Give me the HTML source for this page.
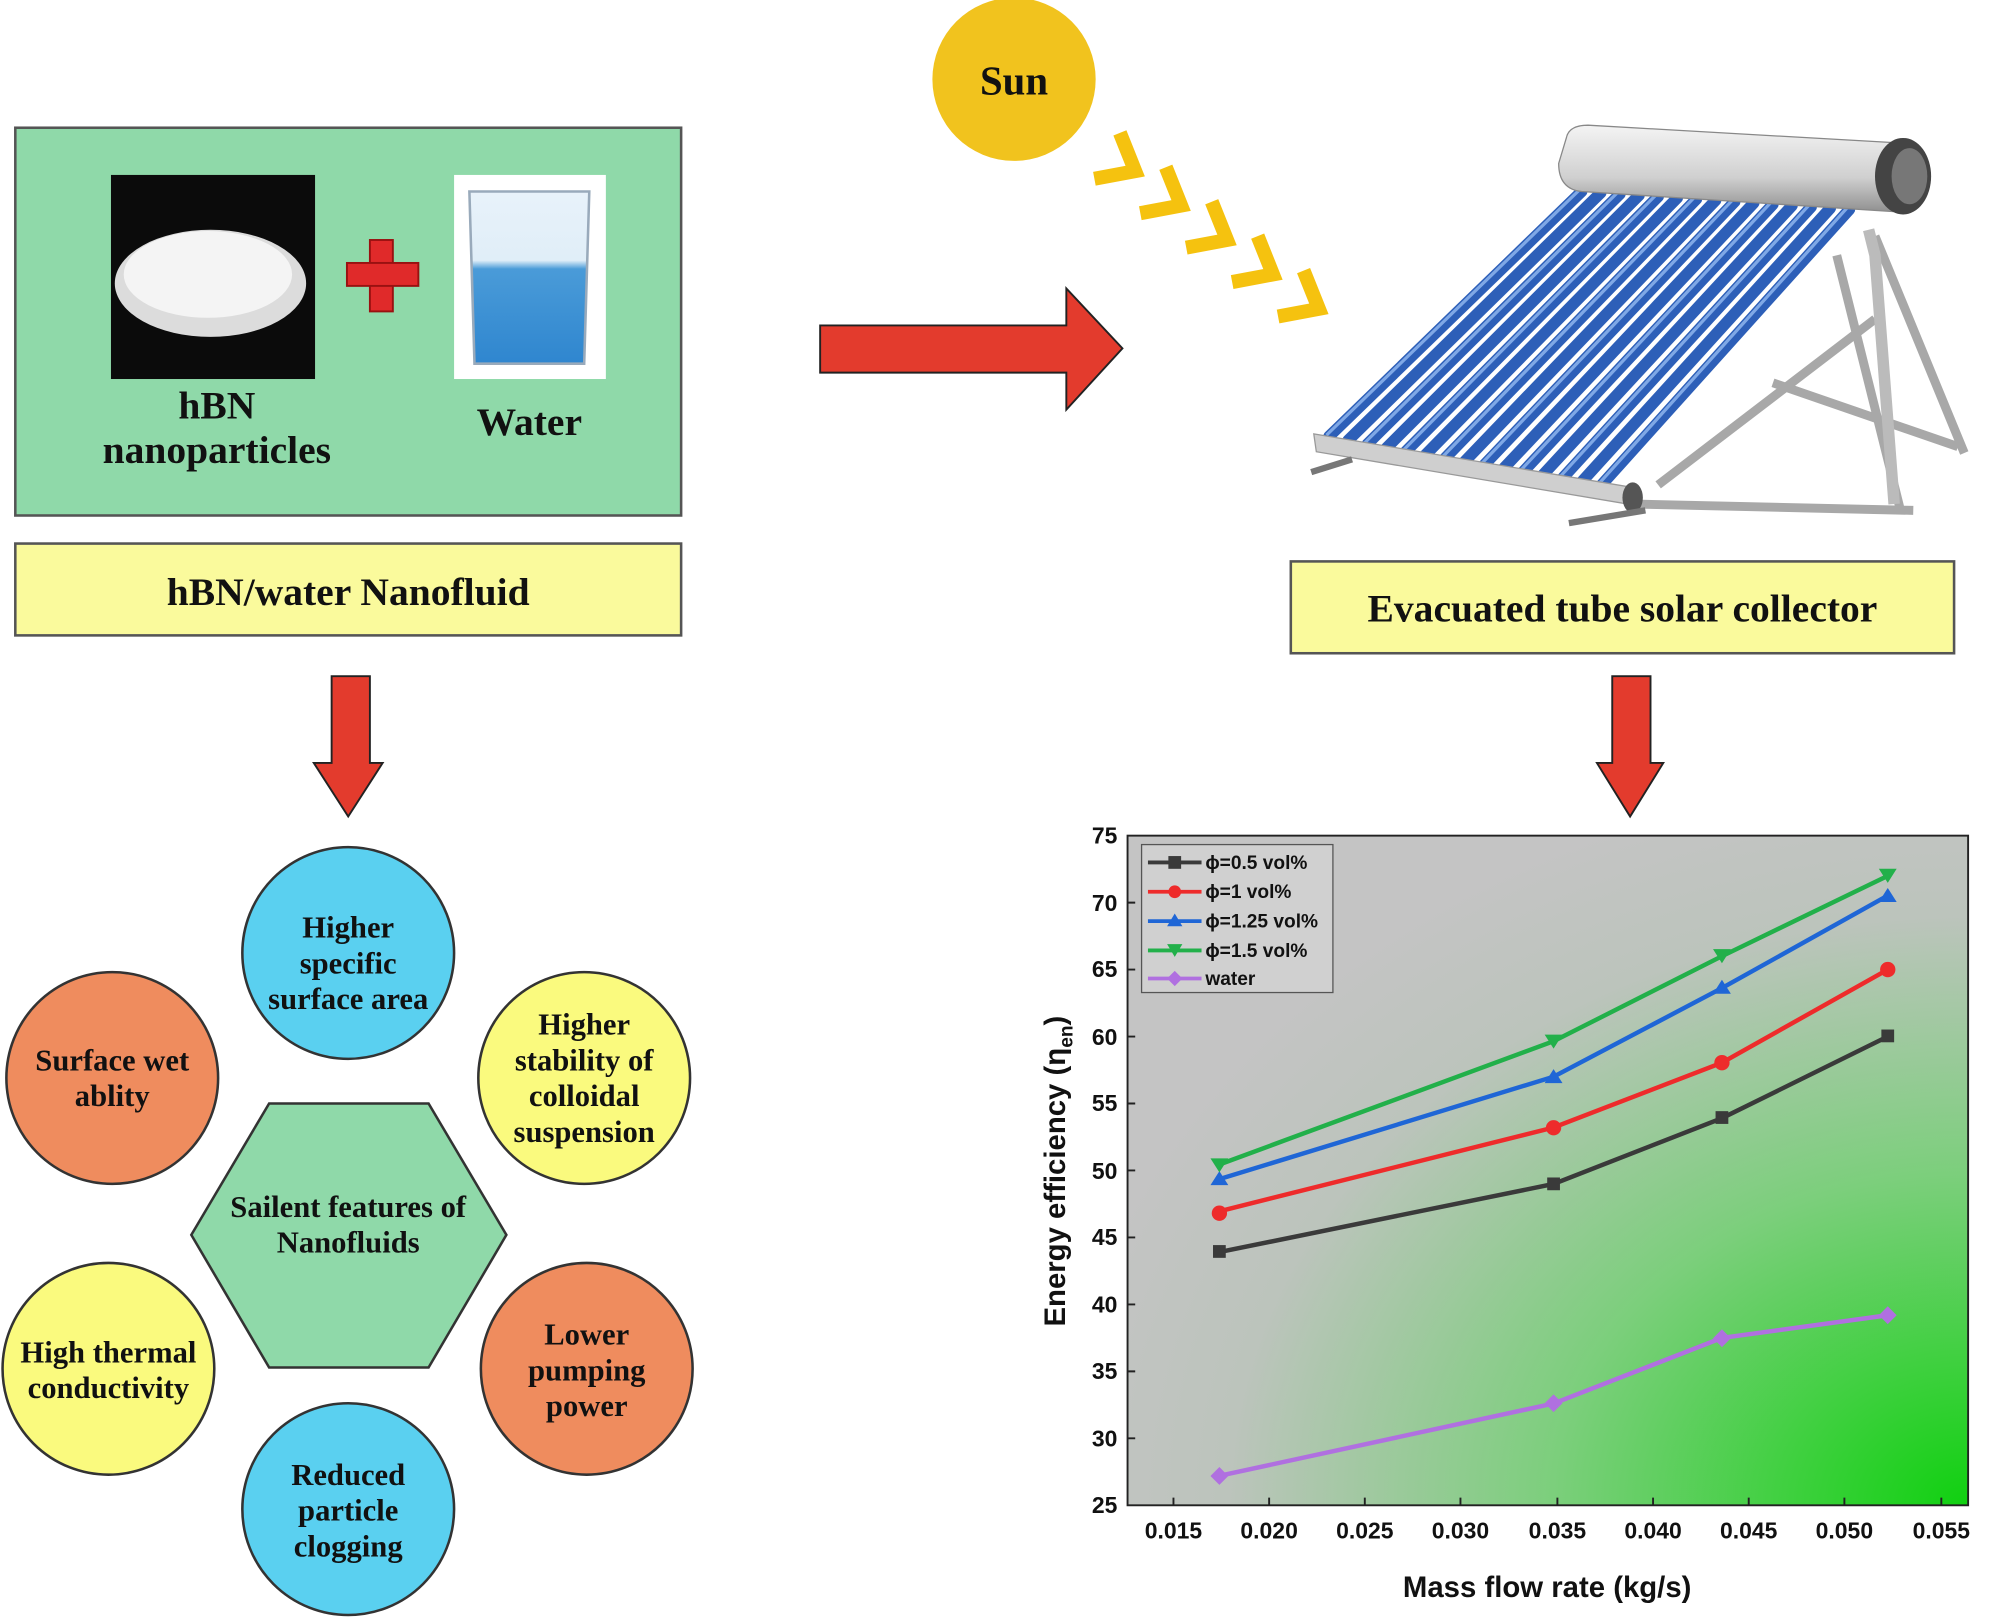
<!DOCTYPE html>
<html><head><meta charset="utf-8"><style>
html,body{margin:0;padding:0;background:#fff}
svg{display:block}
.s{font-family:"Liberation Serif",serif;font-weight:bold;fill:#111}
.a{font-family:"Liberation Sans",sans-serif;font-weight:bold;fill:#111}
</style></head><body>
<svg width="2000" height="1619" viewBox="0 0 1568 1269" xmlns="http://www.w3.org/2000/svg">
<defs>
<radialGradient id="cg" cx="1" cy="1" r="1.1">
<stop offset="0" stop-color="#10d010"/><stop offset="0.45" stop-color="#7ccf7c"/><stop offset="0.8" stop-color="#bcc4bc"/><stop offset="1" stop-color="#c4c4c4"/>
</radialGradient>
<linearGradient id="bk" x1="0" y1="0" x2="0" y2="1"><stop offset="0" stop-color="#e8f2fa"/><stop offset="0.4" stop-color="#e0eef8"/><stop offset="0.45" stop-color="#4a9bd8"/><stop offset="1" stop-color="#2f86cf"/></linearGradient>
<linearGradient id="man" x1="0" y1="0" x2="0" y2="1"><stop offset="0" stop-color="#f4f4f4"/><stop offset="0.6" stop-color="#d0d0d0"/><stop offset="1" stop-color="#909090"/></linearGradient>
</defs>
<rect x="12" y="100" width="522" height="304" fill="#8fd9a9" stroke="#555" stroke-width="2"/>
<rect x="87" y="137" width="160" height="160" fill="#0b0b0b"/>
<ellipse cx="165" cy="222" rx="75" ry="42" fill="#dcdcdc"/>
<ellipse cx="163" cy="215" rx="66" ry="34" fill="#f4f4f4"/>
<rect x="290" y="188" width="18" height="56" fill="#e02a2a" stroke="#911" stroke-width="1.5"/>
<rect x="272" y="206" width="56" height="18" fill="#e02a2a" stroke="#911" stroke-width="1.5"/>
<rect x="356" y="137" width="119" height="160" fill="#fff"/>
<path d="M368 150 L462 150 L458 285 L372 285 Z" fill="url(#bk)" stroke="#9ab" stroke-width="2"/>
<text x="170" y="328" text-anchor="middle" class="s" font-size="31">hBN</text>
<text x="170" y="363" text-anchor="middle" class="s" font-size="31">nanoparticles</text>
<text x="415" y="341" text-anchor="middle" class="s" font-size="31">Water</text>
<rect x="12" y="426" width="522" height="72" fill="#fafa9c" stroke="#555" stroke-width="2"/>
<text x="273" y="474" text-anchor="middle" class="s" font-size="31">hBN/water Nanofluid</text>
<path d="M260 530 L290 530 L290 598 L300 598 L273 640 L246 598 L260 598 Z" fill="#e33b2d" stroke="#222" stroke-width="1.5"/>
<path d="M643 255 L836 255 L836 226 L880 273 L836 321 L836 292 L643 292 Z" fill="#e33b2d" stroke="#222" stroke-width="1.5"/>
<path d="M1264 530 L1294 530 L1294 598 L1304 598 L1278 640 L1252 598 L1264 598 Z" fill="#e33b2d" stroke="#222" stroke-width="1.5"/>
<circle cx="795" cy="62" r="64" fill="#f1c31e"/>
<text x="795" y="74" text-anchor="middle" class="s" font-size="32">Sun</text>
<g fill="none" stroke="#f5c20f" stroke-width="11" stroke-linejoin="miter">
<polyline points="878,104 890,134 858,140"/>
<polyline points="914,131 926,161 894,167"/>
<polyline points="950,158 962,188 930,194"/>
<polyline points="986,185 998,215 966,221"/>
<polyline points="1022,212 1034,242 1002,248"/>
</g>
<g>
<path d="M1470 185 L1540 355 M1440 200 L1490 400 M1300 380 L1470 250 M1390 300 L1535 350 M1280 395 L1500 400" stroke="#a8a8a8" stroke-width="7" fill="none"/>
<path d="M1465 180 L1470 200 L1485 395" stroke="#bbb" stroke-width="9" fill="none"/>
<g stroke="#2d5fb8" stroke-width="9" stroke-linecap="round">
<line x1="1240" y1="150" x2="1042" y2="342"/><line x1="1255" y1="151" x2="1057" y2="345"/><line x1="1270" y1="152" x2="1072" y2="348"/><line x1="1285" y1="153" x2="1087" y2="351"/><line x1="1300" y1="154" x2="1102" y2="354"/><line x1="1315" y1="155" x2="1117" y2="357"/><line x1="1330" y1="156" x2="1132" y2="360"/><line x1="1345" y1="157" x2="1147" y2="363"/><line x1="1360" y1="158" x2="1162" y2="366"/><line x1="1375" y1="159" x2="1177" y2="369"/><line x1="1390" y1="160" x2="1192" y2="372"/><line x1="1405" y1="161" x2="1207" y2="375"/><line x1="1420" y1="162" x2="1222" y2="378"/><line x1="1435" y1="163" x2="1237" y2="381"/><line x1="1450" y1="164" x2="1252" y2="384"/>
</g>
<g stroke="#7fa8e6" stroke-width="2.5">
<line x1="1238" y1="149" x2="1040" y2="341"/><line x1="1268" y1="151" x2="1070" y2="347"/><line x1="1298" y1="153" x2="1100" y2="353"/><line x1="1328" y1="155" x2="1130" y2="359"/><line x1="1358" y1="157" x2="1160" y2="365"/><line x1="1388" y1="159" x2="1190" y2="371"/><line x1="1418" y1="161" x2="1220" y2="377"/><line x1="1448" y1="163" x2="1250" y2="383"/>
</g>
<path d="M1228 108 Q1230 98 1245 98 L1490 112 Q1510 114 1508 140 Q1506 166 1488 166 L1240 150 Q1222 148 1222 128 Z" fill="url(#man)" stroke="#888"/>
<ellipse cx="1492" cy="138" rx="22" ry="30" fill="#444"/>
<ellipse cx="1497" cy="138" rx="14" ry="22" fill="#777"/>
<path d="M1030 340 L1280 382 L1282 396 L1032 354 Z" fill="#cfcfcf" stroke="#999"/>
<ellipse cx="1280" cy="390" rx="8" ry="12" fill="#555"/>
<path d="M1028 370 L1060 360 M1230 410 L1290 400" stroke="#777" stroke-width="5"/>
</g>
<rect x="1012" y="440" width="520" height="72" fill="#fafa9c" stroke="#555" stroke-width="2"/>
<text x="1272" y="487" text-anchor="middle" class="s" font-size="31">Evacuated tube solar collector</text>
<g stroke="#333" stroke-width="2">
<circle cx="273" cy="747" r="83" fill="#5ad0f0"/>
<circle cx="458" cy="845" r="83" fill="#fafa7e"/>
<circle cx="88" cy="845" r="83" fill="#ef8c5e"/>
<circle cx="85" cy="1073" r="83" fill="#fafa7e"/>
<circle cx="460" cy="1073" r="83" fill="#ef8c5e"/>
<circle cx="273" cy="1183" r="83" fill="#5ad0f0"/>
<polygon points="150,968 211,865 336,865 397,968 336,1072 211,1072" fill="#8fd9a9"/>
</g>
<g class="s" font-size="24" text-anchor="middle">
<text x="273" y="735">Higher</text><text x="273" y="763">specific</text><text x="273" y="791">surface area</text>
<text x="458" y="811">Higher</text><text x="458" y="839">stability of</text><text x="458" y="867">colloidal</text><text x="458" y="895">suspension</text>
<text x="88" y="839">Surface wet</text><text x="88" y="867">ablity</text>
<text x="273" y="954">Sailent features of</text><text x="273" y="982">Nanofluids</text>
<text x="85" y="1068">High thermal</text><text x="85" y="1096">conductivity</text>
<text x="460" y="1054">Lower</text><text x="460" y="1082">pumping</text><text x="460" y="1110">power</text>
<text x="273" y="1164">Reduced</text><text x="273" y="1192">particle</text><text x="273" y="1220">clogging</text>
</g>
<rect x="884" y="655" width="659" height="525" fill="url(#cg)" stroke="#222" stroke-width="1.5"/>
<g class="a" font-size="18" text-anchor="end">
<text x="876" y="661">75</text><text x="876" y="714">70</text><text x="876" y="766">65</text><text x="876" y="819">60</text><text x="876" y="871">55</text><text x="876" y="924">50</text><text x="876" y="976">45</text><text x="876" y="1029">40</text><text x="876" y="1081">35</text><text x="876" y="1134">30</text><text x="876" y="1186">25</text>
</g>
<g class="a" font-size="18" text-anchor="middle">
<text x="920" y="1206">0.015</text><text x="995" y="1206">0.020</text><text x="1070" y="1206">0.025</text><text x="1145" y="1206">0.030</text><text x="1221" y="1206">0.035</text><text x="1296" y="1206">0.040</text><text x="1371" y="1206">0.045</text><text x="1446" y="1206">0.050</text><text x="1522" y="1206">0.055</text>
</g>
<g stroke="#222" stroke-width="1.5">
<path d="M920 1180v-6M995 1180v-6M1070 1180v-6M1145 1180v-6M1221 1180v-6M1296 1180v-6M1371 1180v-6M1446 1180v-6M1522 1180v-6"/>
<path d="M884 707.5h6M884 760h6M884 812.5h6M884 865h6M884 917.5h6M884 970h6M884 1022.5h6M884 1075h6M884 1127.5h6"/>
</g>
<text x="1213" y="1252" text-anchor="middle" class="a" font-size="23">Mass flow rate (kg/s)</text>
<text transform="translate(835,918) rotate(-90)" text-anchor="middle" class="a" font-size="23">Energy efficiency (η<tspan font-size="15" dy="6">en</tspan><tspan dy="-6">)</tspan></text>
<g fill="none" stroke-width="3.5">
<polyline points="956,981.5 1218,928.1 1350,876.5 1480,812.5" stroke="#3a3a3a"/>
<polyline points="956,949.5 1218,883.8 1350,833 1480,760" stroke="#ee2b2b"/>
<polyline points="956,924.3 1218,844 1350,774.5 1480,702" stroke="#1f66d6"/>
<polyline points="956,912.8 1218,816.2 1350,749.5 1480,686.5" stroke="#22b04a"/>
<polyline points="956,1156.9 1218,1100.2 1350,1048.8 1480,1031" stroke="#b070e0"/>
</g>
<g fill="#3a3a3a"><rect x="951" y="976" width="10" height="10"/><rect x="1213" y="923" width="10" height="10"/><rect x="1345" y="871" width="10" height="10"/><rect x="1475" y="807" width="10" height="10"/></g>
<g fill="#ee2b2b"><circle cx="956" cy="951" r="6"/><circle cx="1218" cy="884" r="6"/><circle cx="1350" cy="833" r="6"/><circle cx="1480" cy="760" r="6"/></g>
<g fill="#1f66d6"><path d="M956 918l7 11h-14z M1218 838l7 11h-14z M1350 768l7 11h-14z M1480 696l7 11h-14z"/></g>
<g fill="#22b04a"><path d="M956 919l7-11h-14z M1218 822l7-11h-14z M1350 755l7-11h-14z M1480 692l7-11h-14z"/></g>
<g fill="#b070e0"><path d="M956 1150l7 7-7 7-7-7z M1218 1093l7 7-7 7-7-7z M1350 1042l7 7-7 7-7-7z M1480 1024l7 7-7 7-7-7z"/></g>
<rect x="895" y="662" width="150" height="116" fill="#d0d0d0" stroke="#555" stroke-width="1"/>
<g stroke-width="3">
<line x1="900" y1="676" x2="942" y2="676" stroke="#3a3a3a"/><line x1="900" y1="699" x2="942" y2="699" stroke="#ee2b2b"/><line x1="900" y1="722" x2="942" y2="722" stroke="#1f66d6"/><line x1="900" y1="745" x2="942" y2="745" stroke="#22b04a"/><line x1="900" y1="767" x2="942" y2="767" stroke="#b070e0"/>
</g>
<rect x="916" y="671" width="10" height="10" fill="#3a3a3a"/><circle cx="921" cy="699" r="5" fill="#ee2b2b"/><path d="M921 716l6 10h-12z" fill="#1f66d6"/><path d="M921 750l6-10h-12z" fill="#22b04a"/><path d="M921 761l6 6-6 6-6-6z" fill="#b070e0"/>
<g class="a" font-size="15">
<text x="945" y="681">ϕ=0.5 vol%</text><text x="945" y="704">ϕ=1 vol%</text><text x="945" y="727">ϕ=1.25 vol%</text><text x="945" y="750">ϕ=1.5 vol%</text><text x="945" y="772">water</text>
</g>
</svg>
</body></html>
